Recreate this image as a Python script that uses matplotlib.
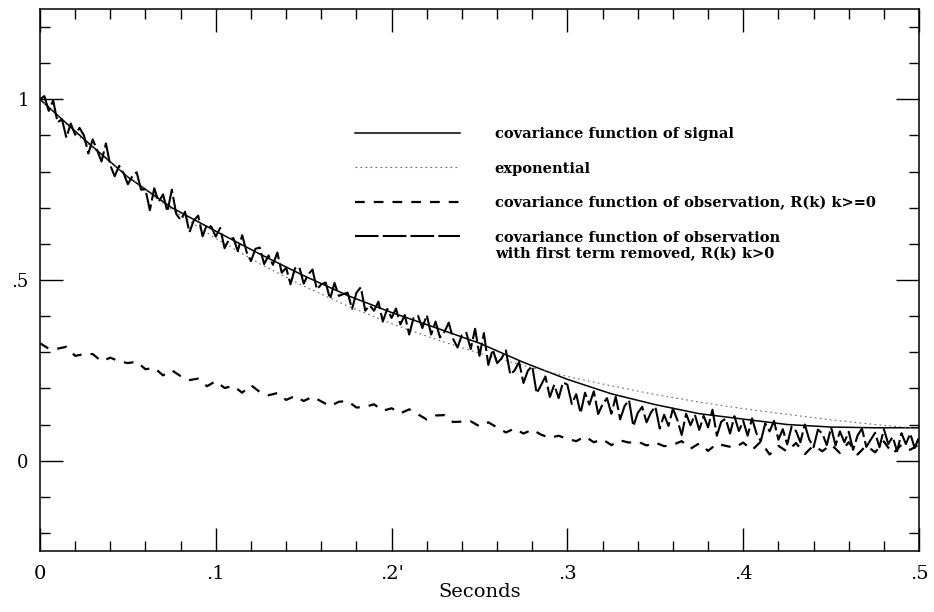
import numpy as np
import matplotlib
matplotlib.use("Agg")
import matplotlib.pyplot as plt
from matplotlib.ticker import MultipleLocator

OUTPUT = "out.png"

# coarse grid (every 0.025 s) for the smooth curves
t_coarse = np.linspace(0.0, 0.5, 21)
signal_cov = [1.000, 0.890, 0.785, 0.700, 0.635, 0.572, 0.512, 0.457, 0.410, 0.368,
              0.325, 0.272, 0.225, 0.185, 0.155, 0.130, 0.115, 0.100, 0.093, 0.091,
              0.091]
exponential = [1.000, 0.885, 0.785, 0.695, 0.615, 0.545, 0.483, 0.428, 0.379, 0.336,
               0.297, 0.263, 0.233, 0.207, 0.183, 0.162, 0.144, 0.128, 0.113, 0.100,
               0.089]

# R(k), k>0, sampled every 0.0025 s
t_fine = np.linspace(0.0, 0.5, 201)
obs_cov_k_gt0 = [
    1.000, 1.009, 0.968, 0.997, 0.936, 0.945, 0.894, 0.933, 0.902, 0.921,
    0.900, 0.850, 0.889, 0.859, 0.828, 0.878, 0.817, 0.787, 0.816, 0.796,
    0.765, 0.787, 0.798, 0.750, 0.751, 0.693, 0.754, 0.716, 0.737, 0.689,
    0.750, 0.683, 0.666, 0.689, 0.632, 0.665, 0.678, 0.621, 0.654, 0.647,
    0.620, 0.644, 0.588, 0.612, 0.616, 0.580, 0.624, 0.578, 0.552, 0.586,
    0.590, 0.544, 0.568, 0.542, 0.576, 0.520, 0.534, 0.488, 0.532, 0.536,
    0.490, 0.515, 0.529, 0.474, 0.488, 0.493, 0.447, 0.492, 0.456, 0.461,
    0.465, 0.420, 0.465, 0.480, 0.415, 0.430, 0.415, 0.440, 0.385, 0.420,
    0.395, 0.421, 0.377, 0.403, 0.349, 0.395, 0.401, 0.367, 0.403, 0.349,
    0.385, 0.341, 0.356, 0.382, 0.337, 0.313, 0.348, 0.354, 0.309, 0.365,
    0.290, 0.353, 0.265, 0.308, 0.270, 0.283, 0.305, 0.238, 0.250, 0.273,
    0.215, 0.249, 0.262, 0.186, 0.209, 0.233, 0.176, 0.210, 0.173, 0.217,
    0.210, 0.157, 0.184, 0.131, 0.188, 0.155, 0.192, 0.129, 0.156, 0.173,
    0.130, 0.177, 0.114, 0.151, 0.168, 0.095, 0.132, 0.149, 0.106, 0.133,
    0.150, 0.089, 0.127, 0.096, 0.144, 0.113, 0.071, 0.130, 0.098, 0.127,
    0.085, 0.124, 0.092, 0.141, 0.069, 0.108, 0.116, 0.075, 0.123, 0.082,
    0.110, 0.069, 0.117, 0.076, 0.054, 0.103, 0.081, 0.110, 0.058, 0.087,
    0.045, 0.094, 0.082, 0.051, 0.100, 0.059, 0.037, 0.086, 0.075, 0.043,
    0.092, 0.042, 0.081, 0.051, 0.080, 0.030, 0.069, 0.089, 0.038, 0.058,
    0.077, 0.037, 0.087, 0.046, 0.066, 0.026, 0.076, 0.046, 0.075, 0.035,
    0.065,
]

# R(k), k>=0, sampled every 0.005 s
t_mid = np.linspace(0.0, 0.5, 101)
obs_cov_k_ge0 = [
    0.325, 0.310, 0.310, 0.315, 0.290, 0.295, 0.295, 0.275, 0.285, 0.275,
    0.270, 0.274, 0.253, 0.257, 0.236, 0.250, 0.234, 0.223, 0.227, 0.206,
    0.220, 0.201, 0.207, 0.188, 0.209, 0.190, 0.181, 0.187, 0.168, 0.179,
    0.165, 0.177, 0.164, 0.151, 0.163, 0.165, 0.147, 0.149, 0.156, 0.138,
    0.145, 0.131, 0.142, 0.128, 0.114, 0.125, 0.126, 0.107, 0.108, 0.109,
    0.095, 0.106, 0.092, 0.078, 0.089, 0.075, 0.086, 0.072, 0.063, 0.069,
    0.060, 0.054, 0.067, 0.051, 0.059, 0.043, 0.056, 0.050, 0.053, 0.042,
    0.050, 0.040, 0.044, 0.054, 0.033, 0.048, 0.027, 0.047, 0.041, 0.036,
    0.050, 0.029, 0.053, 0.017, 0.041, 0.025, 0.049, 0.018, 0.042, 0.026,
    0.045, 0.021, 0.051, 0.017, 0.042, 0.023, 0.053, 0.019, 0.044, 0.030,
    0.045,
]

x_ticks = [0.0, 0.1, 0.2, 0.3, 0.4, 0.5]
x_tick_labels = ["0", ".1", ".2'", ".3", ".4", ".5"]
y_ticks = [0.0, 0.5, 1.0]
y_tick_labels = ["0", ".5", "1"]

labels = [
    "covariance function of signal",
    "exponential",
    "covariance function of observation, R(k) k>=0",
    "covariance function of observation",
]
label_2nd_line = "with first term removed, R(k) k>0"

plt.rcParams["lines.scale_dashes"] = False
SERIF = ["DejaVu Serif"]
LEGEND_SIZE = 10.5

fig = plt.figure(figsize=(9.34, 6.12), dpi=100)
ax = fig.add_axes([0.0428, 0.0997, 0.9412, 0.8856])

l_sig, = ax.plot(t_coarse, signal_cov, color="black", lw=1.1, solid_joinstyle="round")
l_exp, = ax.plot(t_coarse, exponential, color="#666666", lw=0.8, dashes=(1.2, 2.4))
l_ge0, = ax.plot(t_mid, obs_cov_k_ge0, color="black", lw=1.6, dashes=(7, 6.5))
l_gt0, = ax.plot(t_fine, obs_cov_k_gt0, color="black", lw=1.5, dashes=(17, 3))

ax.set_xlim(0, 0.5)
ax.set_ylim(-0.25, 1.25)

ax.set_xticks(x_ticks, labels=x_tick_labels)
ax.set_yticks(y_ticks, labels=y_tick_labels)
ax.xaxis.set_minor_locator(MultipleLocator(0.02))
ax.yaxis.set_minor_locator(MultipleLocator(0.1))
ax.tick_params(which="both", direction="in", top=True, right=True, width=1.0)
ax.tick_params(which="major", length=16.5)
ax.tick_params(which="minor", length=7)
ax.tick_params(axis="x", which="major", pad=10, labelsize=14)
ax.tick_params(axis="y", which="major", pad=8, labelsize=13)
for lab in ax.get_xticklabels() + ax.get_yticklabels():
    lab.set_family(SERIF)
for sp in ax.spines.values():
    sp.set_linewidth(1.1)

ax.set_xlabel("Seconds", family=SERIF, fontsize=14, labelpad=0)

leg = ax.legend([l_sig, l_exp, l_ge0, l_gt0], labels,
                loc="upper left", bbox_to_anchor=(0.358, 0.782),
                frameon=False, borderpad=0, borderaxespad=0,
                handlelength=7.2, handletextpad=2.4, labelspacing=1.4,
                prop={"family": SERIF, "size": LEGEND_SIZE, "weight": "bold"})
# second line of the last label, hung under its first line
ax.annotate(label_2nd_line, xy=(0, 0), xycoords=leg.get_texts()[3],
            xytext=(0, -2), textcoords="offset points",
            ha="left", va="top", family=SERIF, fontsize=LEGEND_SIZE,
            fontweight="bold", zorder=10)

fig.savefig(OUTPUT, dpi=100)
